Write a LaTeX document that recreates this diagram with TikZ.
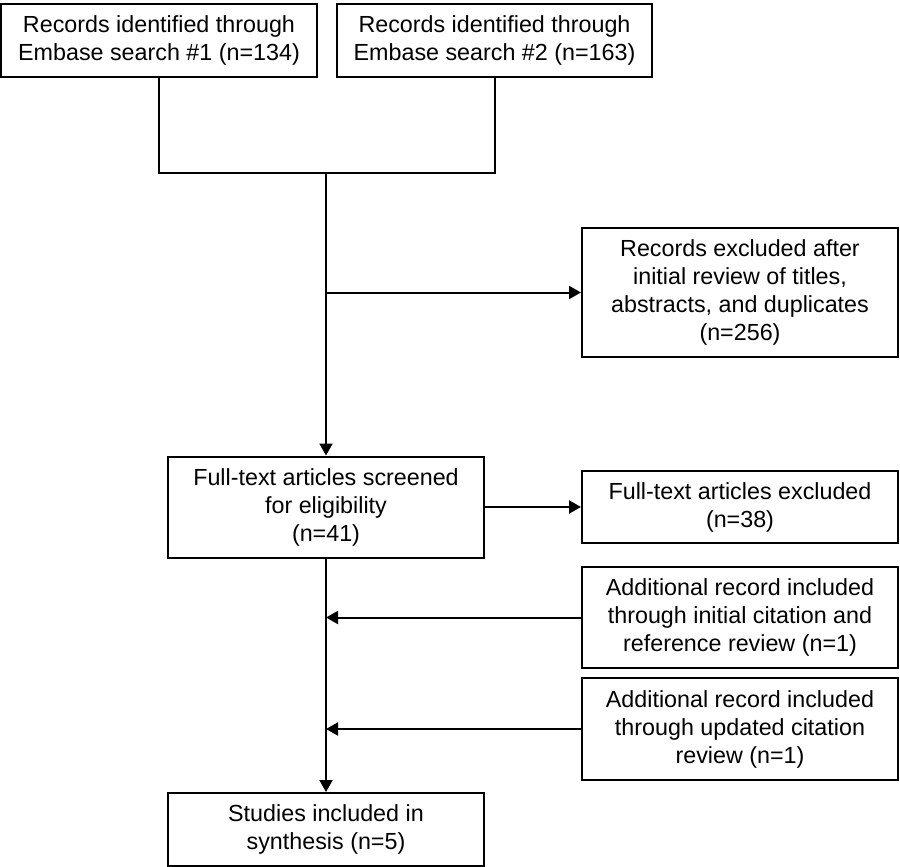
\documentclass[tikz,border=0pt]{standalone}
\usepackage{fontspec}
\setmainfont{Liberation Sans}
\usepackage{tikz}
\usetikzlibrary{arrows.meta}
\tikzstyle{box} = [draw, line width=1pt, align=center, inner sep=2pt, minimum width=158pt, font=\fontsize{11.65}{14}\selectfont]
\tikzstyle{arrow} = [line width=1pt, -{Triangle[length=6pt, width=6.5pt]}]
\tikzstyle{line} = [line width=1pt]

\begin{document}
\begin{tikzpicture}[x=0.5pt, y=-0.5pt]
        \useasboundingbox (0,0) rectangle (900,867);
        \node (search_1) [box, minimum height=36.5pt] at (159,40.5) {Records identified through\\Embase search \#1 (n=134)};
        \node (search_2) [box, minimum width=157.5pt, minimum height=36.5pt] at (494.5,40.5) {Records identified through\\Embase search \#2 (n=163)};
        \node (excluded_1) [box, minimum height=64.5pt] at (740,292.5) {Records excluded after\\initial review of titles,\\abstracts, and duplicates\\(n=256)};
        \node (screened) [box, minimum height=50.5pt] at (326,507) {Full-text articles screened\\for eligibility\\(n=41)};
        \node (excluded_2) [box, minimum height=36pt] at (740,507) {Full-text articles excluded\\(n=38)};
        \node (added_1) [box, minimum height=50.5pt] at (740,617.5) {Additional record included\\through initial citation and\\reference review (n=1)};
        \node (added_2) [box, minimum height=51pt] at (740,729) {Additional record included\\through updated citation\\review (n=1)};
        \node (included) [box, minimum height=36.5pt] at (326,829.5) {Studies included in\\synthesis (n=5)};
        \coordinate (join) at (326,173);
        
        \draw [line] (search_1.south) |- (search_2.south |- join) -- (search_2.south);
        \draw [arrow] (join) -- (screened.north);
        \draw [arrow] (join |- excluded_1.west) -- (excluded_1.west);
        \draw [arrow] (screened.east) -- (excluded_2.west);
        \draw [arrow] (screened.south) -- (included.north);
        \draw [arrow] (added_1.west) -- (screened.south |- added_1.west);
        \draw [arrow] (added_2.west) -- (screened.south |- added_2.west);
        
    \end{tikzpicture}
\end{document}
